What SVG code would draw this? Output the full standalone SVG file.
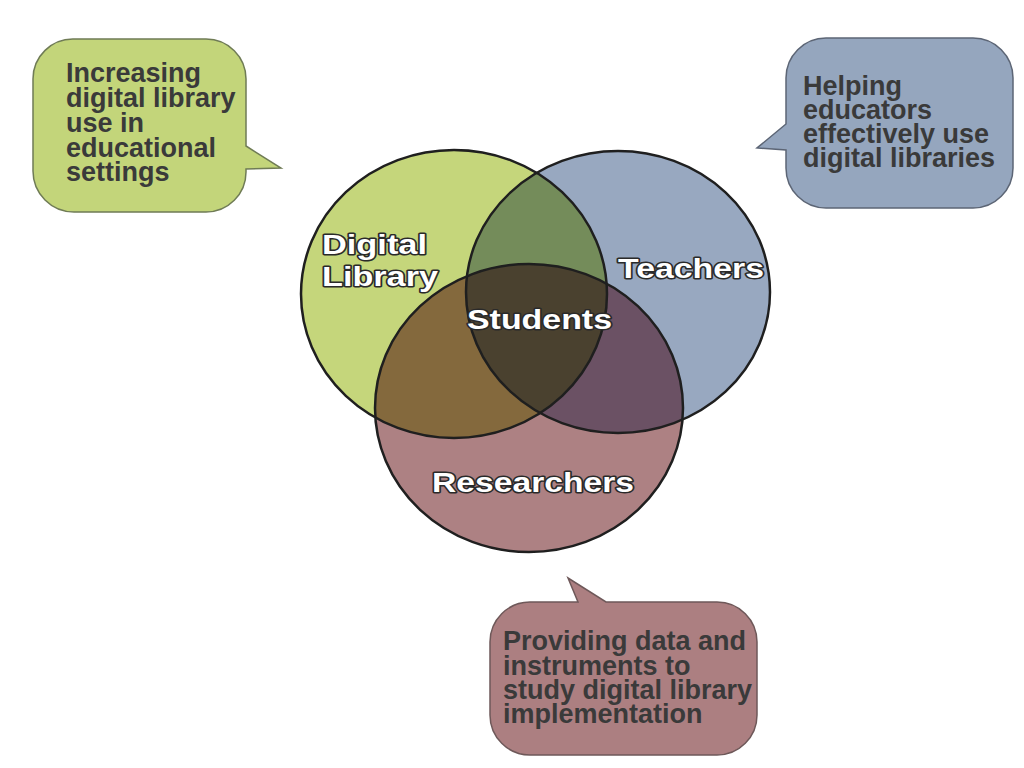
<svg xmlns="http://www.w3.org/2000/svg" width="1024" height="768" viewBox="0 0 1024 768">
<style>
.callout-text{font-family:"Liberation Sans",Arial,sans-serif;font-weight:bold;font-size:27px;fill:#3a3a3a}
.label{font-family:"Liberation Sans",Arial,sans-serif;font-weight:bold;font-size:28px;fill:#ffffff;stroke:#2a2a2a;stroke-width:3;paint-order:stroke;stroke-linejoin:round}
.ring{fill:none;stroke:#1f1f1f;stroke-width:2.5}
.bubble{stroke-width:1.5}
</style>
<defs>
<clipPath id="clipG"><ellipse cx="454" cy="294" rx="153" ry="144"/></clipPath>
<clipPath id="clipB"><ellipse cx="618" cy="292" rx="152" ry="141"/></clipPath>
</defs>
<rect width="1024" height="768" fill="#ffffff"/>

<g id="venn">
<ellipse cx="454" cy="294" rx="153" ry="144" fill="#c5d67b"/>
<ellipse cx="618" cy="292" rx="152" ry="141" fill="#98a8c0"/>
<ellipse cx="529" cy="408" rx="154" ry="144" fill="#ad8183"/>
<ellipse cx="618" cy="292" rx="152" ry="141" fill="#748c5a" clip-path="url(#clipG)"/>
<ellipse cx="529" cy="408" rx="154" ry="144" fill="#84693d" clip-path="url(#clipG)"/>
<ellipse cx="529" cy="408" rx="154" ry="144" fill="#6b5164" clip-path="url(#clipB)"/>
<g clip-path="url(#clipB)"><ellipse cx="529" cy="408" rx="154" ry="144" fill="#4a412f" clip-path="url(#clipG)"/></g>
<ellipse class="ring" cx="454" cy="294" rx="153" ry="144"/>
<ellipse class="ring" cx="618" cy="292" rx="152" ry="141"/>
<ellipse class="ring" cx="529" cy="408" rx="154" ry="144"/>
</g>

<g id="label-digital-library">
<text class="label" x="322" y="254" textLength="105" lengthAdjust="spacingAndGlyphs">Digital</text>
<text class="label" x="322" y="286" textLength="116" lengthAdjust="spacingAndGlyphs">Library</text>
</g>
<g id="label-teachers">
<text class="label" x="618" y="278" textLength="146" lengthAdjust="spacingAndGlyphs">Teachers</text>
</g>
<g id="label-students">
<text class="label" x="467" y="329" textLength="145" lengthAdjust="spacingAndGlyphs">Students</text>
</g>
<g id="label-researchers">
<text class="label" x="432" y="492" textLength="202" lengthAdjust="spacingAndGlyphs">Researchers</text>
</g>

<g id="callout-green">
<path class="bubble" fill="#c3d57a" stroke="#6f7b55" d="M 74,39 H 206 A 40 40 0 0 1 246 79 V 146 L 281 168 L 246 169 V 172 A 40 40 0 0 1 206 212 H 74 A 41 41 0 0 1 33 171 V 79 A 40 40 0 0 1 74 39 Z"/>
<text class="callout-text" x="66" y="82">Increasing</text>
<text class="callout-text" x="66" y="107">digital library</text>
<text class="callout-text" x="66" y="132">use in</text>
<text class="callout-text" x="66" y="157">educational</text>
<text class="callout-text" x="66" y="181">settings</text>
</g>

<g id="callout-blue">
<path class="bubble" fill="#95a6be" stroke="#5c6575" d="M 826,38 H 973 A 40 40 0 0 1 1013 78 V 168 A 40 40 0 0 1 973 208 H 826 A 40 40 0 0 1 786 168 V 150 L 757 148 L 786 124 V 78 A 40 40 0 0 1 826 38 Z"/>
<text class="callout-text" x="803" y="95">Helping</text>
<text class="callout-text" x="803" y="119">educators</text>
<text class="callout-text" x="803" y="143">effectively use</text>
<text class="callout-text" x="803" y="167">digital libraries</text>
</g>

<g id="callout-red">
<path class="bubble" fill="#ac7f81" stroke="#6e5859" d="M 530,602 H 578 L 568 578 L 606 602 H 717 A 40 40 0 0 1 757 642 V 715 A 40 40 0 0 1 717 755 H 530 A 40 40 0 0 1 490 715 V 642 A 40 40 0 0 1 530 602 Z"/>
<text class="callout-text" x="503" y="650">Providing data and</text>
<text class="callout-text" x="503" y="675">instruments to</text>
<text class="callout-text" x="503" y="699">study digital library</text>
<text class="callout-text" x="503" y="723">implementation</text>
</g>
</svg>
